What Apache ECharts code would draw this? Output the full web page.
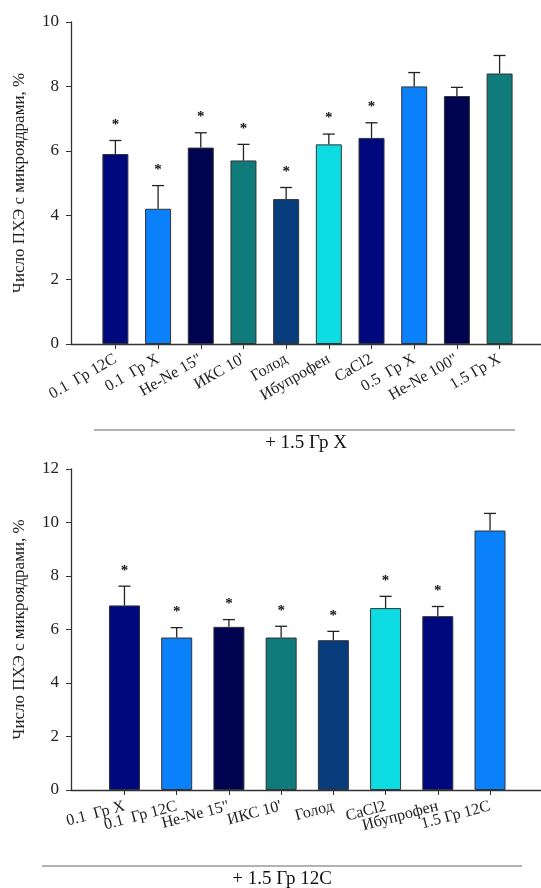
<!DOCTYPE html>
<html>
<head>
<meta charset="utf-8">
<script src="https://cdn.jsdelivr.net/npm/echarts@6/dist/echarts.min.js"></script>
<style>
  html, body { margin: 0; padding: 0; background: #fff; }
  #chart { width: 541px; height: 888px; }
</style>
</head>
<body>
<div id="chart"></div>
<script>
var myChart = echarts.init(document.getElementById('chart'));

// верхний график: + 1.5 Гр X
var topNames = ['0.1  Гр 12C', '0.1  Гр X', 'He-Ne 15"', "ИКС 10'", 'Голод', 'Ибупрофен', 'CaCl2', '0.5  Гр X', 'He-Ne 100"', '1.5 Гр X'];
var topValues = [5.9, 4.2, 6.1, 5.7, 4.5, 6.2, 6.4, 8.0, 7.7, 8.4];
var topErrors = [0.42, 0.72, 0.46, 0.5, 0.36, 0.32, 0.47, 0.43, 0.27, 0.56];
var topStars = [1, 1, 1, 1, 1, 1, 1, 0, 0, 0];
var topColors = ['#00087e', '#0a80fa', '#00034f', '#0f7b7b', '#073c7c', '#0ddde3', '#00087e', '#0a80fa', '#00034f', '#0f7b7b'];

// нижний график: + 1.5 Гр 12C
var botNames = ['0.1  Гр X', '0.1  Гр 12C', 'He-Ne 15"', "ИКС 10'", 'Голод', 'CaCl2', 'Ибупрофен', '1.5 Гр 12C'];
var botValues = [6.9, 5.7, 6.1, 5.7, 5.6, 6.8, 6.5, 9.7];
var botErrors = [0.72, 0.37, 0.27, 0.42, 0.33, 0.44, 0.36, 0.64];
var botStars = [1, 1, 1, 1, 1, 1, 1, 0];
var botColors = ['#00087e', '#0a80fa', '#00034f', '#0f7b7b', '#073c7c', '#0ddde3', '#00087e', '#0a80fa'];

var yName = 'Число ПХЭ с микроядрами, %';
var font = '"Liberation Serif", "DejaVu Serif", serif';

function idx(arr, start, step) {
    var r = [];
    for (var i = start || 0; i < arr.length; i += (step || 1)) r.push(i);
    return r;
}

function barData(values, colors) {
    var d = [];
    for (var i = 0; i < values.length; i++) {
        d.push({ value: [i, values[i]], itemStyle: { color: colors[i] } });
    }
    return d;
}

function errData(values, errors, stars) {
    var d = [];
    for (var i = 0; i < values.length; i++) {
        d.push([i, values[i], errors[i], stars[i]]);
    }
    return d;
}

function renderErr(params, api) {
    var x = api.value(0), v = api.value(1), e = api.value(2);
    var p0 = api.coord([x, v]);
    var p1 = api.coord([x, v + e]);
    var lineStyle = { stroke: '#222', lineWidth: 1.3 };
    var children = [
        { type: 'line', shape: { x1: p0[0], y1: p0[1], x2: p1[0], y2: p1[1] }, style: lineStyle },
        { type: 'line', shape: { x1: p1[0] - 6, y1: p1[1], x2: p1[0] + 6, y2: p1[1] }, style: lineStyle }
    ];
    if (api.value(3)) {
        children.push({
            type: 'text',
            x: p1[0], y: p1[1] - 8,
            style: { text: '*', fill: '#111', font: 'bold 15px ' + font, textAlign: 'center', textVerticalAlign: 'bottom' }
        });
    }
    return { type: 'group', children: children };
}

// ось X; labelIdx - какие подписи показывать на этой оси
function xAxisCfg(gridIndex, names, min, max, rotate, margin, labelIdx, withLine) {
    return {
        type: 'value',
        gridIndex: gridIndex,
        position: 'bottom',
        min: min,
        max: max,
        splitLine: { show: false },
        axisLine: { show: withLine, onZero: false, lineStyle: { color: '#333', width: 1.3 } },
        axisTick: { show: withLine, customValues: idx(names), length: 5, lineStyle: { color: '#333' } },
        axisLabel: {
            customValues: labelIdx,
            rotate: rotate,
            margin: margin,
            showMinLabel: true,
            showMaxLabel: true,
            hideOverlap: false,
            color: '#222',
            fontSize: 16,
            fontFamily: font,
            formatter: function (v) { return names[Math.round(v)]; }
        }
    };
}

function yAxisCfg(gridIndex, max) {
    return {
        type: 'value',
        gridIndex: gridIndex,
        min: 0,
        max: max,
        interval: 2,
        splitLine: { show: false },
        axisLine: { show: true, onZero: false, lineStyle: { color: '#333', width: 1.3 } },
        axisTick: { show: true, length: 5, lineStyle: { color: '#333' } },
        axisLabel: { color: '#222', fontSize: 17, fontFamily: font, margin: 12 },
        name: yName,
        nameLocation: 'middle',
        nameRotate: 90,
        nameGap: 43,
        nameTextStyle: { color: '#222', fontSize: 17, fontFamily: font }
    };
}

option = {
    backgroundColor: '#fff',
    animation: false,
    textStyle: { fontFamily: font },
    grid: [
        { left: 71, right: 0, top: 22, height: 322 },
        { left: 71, right: 0, top: 469, height: 321 }
    ],
    xAxis: [
        xAxisCfg(0, topNames, -1.04, 9.97, 30, 14, idx(topNames), true),
        xAxisCfg(1, botNames, -1.024, 7.976, 15, 16, idx(botNames, 0, 2), true),
        xAxisCfg(1, botNames, -1.024, 7.976, 15, 16, idx(botNames, 1, 2), false)
    ],
    yAxis: [
        yAxisCfg(0, 10),
        yAxisCfg(1, 12)
    ],
    graphic: [
        { type: 'line', shape: { x1: 94, y1: 430, x2: 515, y2: 430 }, style: { stroke: '#666', lineWidth: 1 } },
        { type: 'text', x: 306, y: 443, style: { text: '+ 1.5 Гр X', font: '19px ' + font, fill: '#111', textAlign: 'center', textVerticalAlign: 'middle' } },
        { type: 'line', shape: { x1: 42, y1: 866, x2: 522, y2: 866 }, style: { stroke: '#666', lineWidth: 1 } },
        { type: 'text', x: 282, y: 879, style: { text: '+ 1.5 Гр 12C', font: '19px ' + font, fill: '#111', textAlign: 'center', textVerticalAlign: 'middle' } }
    ],
    series: [
        {
            type: 'bar',
            xAxisIndex: 0, yAxisIndex: 0,
            barWidth: 26,
            data: barData(topValues, topColors),
            itemStyle: { borderColor: '#333', borderWidth: 1 }
        },
        {
            type: 'custom',
            xAxisIndex: 0, yAxisIndex: 0,
            z: 5,
            renderItem: renderErr,
            data: errData(topValues, topErrors, topStars)
        },
        {
            type: 'bar',
            xAxisIndex: 1, yAxisIndex: 1,
            barWidth: 31,
            data: barData(botValues, botColors),
            itemStyle: { borderColor: '#333', borderWidth: 1 }
        },
        {
            type: 'custom',
            xAxisIndex: 1, yAxisIndex: 1,
            z: 5,
            renderItem: renderErr,
            data: errData(botValues, botErrors, botStars)
        }
    ]
};
myChart.setOption(option);
</script>
</body>
</html>
